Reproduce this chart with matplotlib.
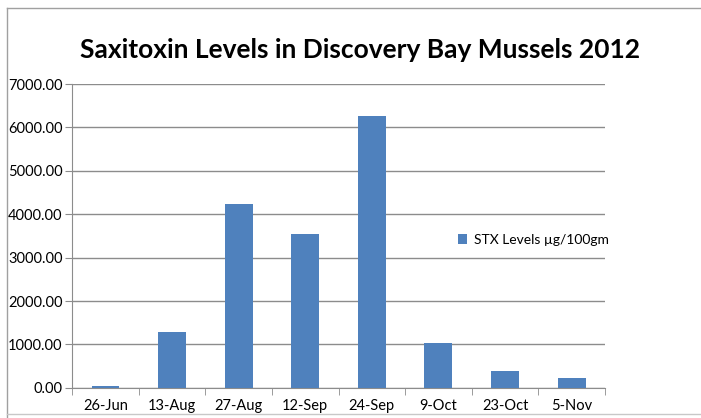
import matplotlib.pyplot as plt
from matplotlib.lines import Line2D
from matplotlib.ticker import FormatStrFormatter

plt.rcParams['font.family'] = ['Lato', 'DejaVu Sans']

dates = ['26-Jun', '13-Aug', '27-Aug', '12-Sep', '24-Sep', '9-Oct', '23-Oct', '5-Nov']
stx_levels = [50, 1290, 4240, 3550, 6270, 1040, 390, 230]
series_name = 'STX Levels µg/100gm'

W, H = 701, 418
fig = plt.figure(figsize=(W / 100, H / 100), dpi=100)
ax = fig.add_axes([0.103, 0.072, 0.760, 0.727])

x = range(len(dates))
ax.bar(x, stx_levels, width=0.42, color='#4f81bd', label=series_name, zorder=3)

ax.set_xlim(-0.5, len(dates) - 0.5)
ax.set_ylim(0, 7000)
ax.set_yticks(range(0, 7001, 1000))
ax.yaxis.set_major_formatter(FormatStrFormatter('%.2f'))
ax.set_xticks(x)
ax.set_xticklabels(dates)
ax.set_xticks([i - 0.5 for i in range(len(dates) + 1)], minor=True)
ax.grid(axis='y', color='#8c8c8c', linewidth=1, zorder=0)

for side in ['top', 'right']:
    ax.spines[side].set_visible(False)
ax.spines['left'].set_color('#8c8c8c')
ax.spines['bottom'].set_color('#8c8c8c')
ax.tick_params(axis='y', length=5, color='#8c8c8c', labelsize=10.5, pad=2)
ax.tick_params(axis='x', which='major', length=0, labelsize=10.5, pad=8)
ax.tick_params(axis='x', which='minor', length=5, color='#8c8c8c')

fig.text(0.513, 0.88, 'Saxitoxin Levels in Discovery Bay Mussels 2012',
         ha='center', va='center', fontsize=19, fontweight='bold')

leg = fig.legend(loc='center left', bbox_to_anchor=(445 / W, 1 - 240 / H),
                 frameon=False, fontsize=10, handlelength=0.7,
                 handleheight=0.7, handletextpad=0.5)

# chart area border
grey = '#a0a0a0'
fig.add_artist(Line2D([7 / W, 1], [1 - 8 / H, 1 - 8 / H], color=grey, lw=1))
fig.add_artist(Line2D([7 / W, 7 / W], [1 - 8 / H, 0], color=grey, lw=1))
fig.add_artist(Line2D([7 / W, 1], [1 - 414 / H, 1 - 414 / H], color='#c8c8c8', lw=1))

fig.savefig('out.png', dpi=100)
